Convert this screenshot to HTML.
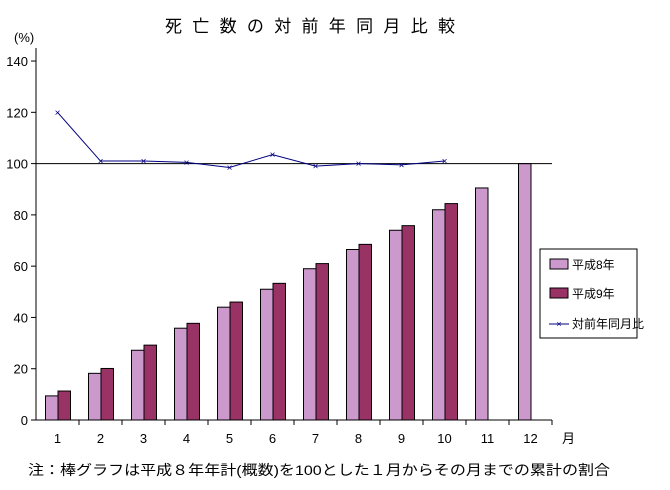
<!DOCTYPE html>
<html><head><meta charset="utf-8"><style>
body{margin:0;background:#fff;}
svg{display:block;font-family:"Liberation Sans","Noto Sans CJK JP",sans-serif;}
</style></head><body>
<svg id="c" width="670" height="490">
<text x="165" y="32" font-size="17" textLength="290" lengthAdjust="spacing">死亡数の対前年同月比較</text>
<text x="14" y="42" font-size="13">(%)</text>
<text x="562" y="443" font-size="13">月</text>
<text x="28" y="475" font-size="14" textLength="582" lengthAdjust="spacingAndGlyphs">注：棒グラフは平成８年年計(概数)を100とした１月からその月までの累計の割合</text>
<g id="plot"></g>
<g>
<rect x="540" y="249" width="97" height="89" fill="#fff" stroke="#000"/>
<rect x="550" y="259" width="18" height="10" fill="#CC99CC" stroke="#000"/>
<text x="572" y="269" font-size="12">平成8年</text>
<rect x="550" y="288" width="18" height="10" fill="#993366" stroke="#000"/>
<text x="572" y="298" font-size="12">平成9年</text>
<line x1="549" y1="324" x2="569" y2="324" stroke="#000080"/>
<text x="559" y="327" font-size="9" fill="#000080" text-anchor="middle">×</text>
<text x="572" y="328" font-size="12">対前年同月比</text>
</g>
</svg>
<script>
const categories=["1","2","3","4","5","6","7","8","9","10","11","12"];
const h8=[9.4,18.2,27.2,35.8,44,51,59,66.5,74,82,90.5,100];
const h9=[11.3,20.1,29.2,37.7,46,53.3,61,68.5,75.8,84.4];
const ratio=[120,101,101,100.5,98.5,103.5,99,100,99.5,101];
const yTicks=[0,20,40,60,80,100,120,140];
const NS="http://www.w3.org/2000/svg";
const g=document.getElementById('plot');
const x0=36,step=43,yBase=420,ppu=2.564;
const X=i=>x0+step*(i+0.5);
const Y=v=>yBase-v*ppu;
function el(t,a){const e=document.createElementNS(NS,t);for(const k in a)e.setAttribute(k,a[k]);g.appendChild(e);return e;}
h8.forEach((v,i)=>{const r=el('rect',{x:X(i)-12,y:Y(v),width:12.5,height:v*ppu,fill:'#CC99CC',stroke:'#000'});

});
h9.forEach((v,i)=>{const r=el('rect',{x:X(i)+0.5,y:Y(v),width:12.5,height:v*ppu,fill:'#993366',stroke:'#000'});

});
const ax=el('line',{x1:x0,y1:48,x2:x0,y2:yBase,stroke:'#000'});


const bx=el('line',{x1:x0,y1:yBase,x2:x0+step*12,y2:yBase,stroke:'#000'});


const ref=el('line',{x1:x0,y1:Y(100),x2:x0+step*12,y2:Y(100),stroke:'#000'});


yTicks.forEach(v=>{el('line',{x1:x0-5,y1:Y(v),x2:x0,y2:Y(v),stroke:'#000'});
const t=el('text',{x:x0-8,y:Y(v)+5,'font-size':13,'text-anchor':'end'});t.textContent=v;

});
categories.forEach((c,i)=>{el('line',{x1:x0+step*(i+1),y1:yBase,x2:x0+step*(i+1),y2:yBase+5,stroke:'#000'});
const t=el('text',{x:X(i),y:443,'font-size':13,'text-anchor':'middle'});t.textContent=c;

});
const pl=el('polyline',{points:ratio.map((v,i)=>X(i)+','+Y(v)).join(' '),fill:'none',stroke:'#000080'});


ratio.forEach((v,i)=>{const t=el('text',{x:X(i),y:Y(v)+3.5,'font-size':10,fill:'#000080','text-anchor':'middle'});t.textContent='×';

});
</script>
</body></html>
